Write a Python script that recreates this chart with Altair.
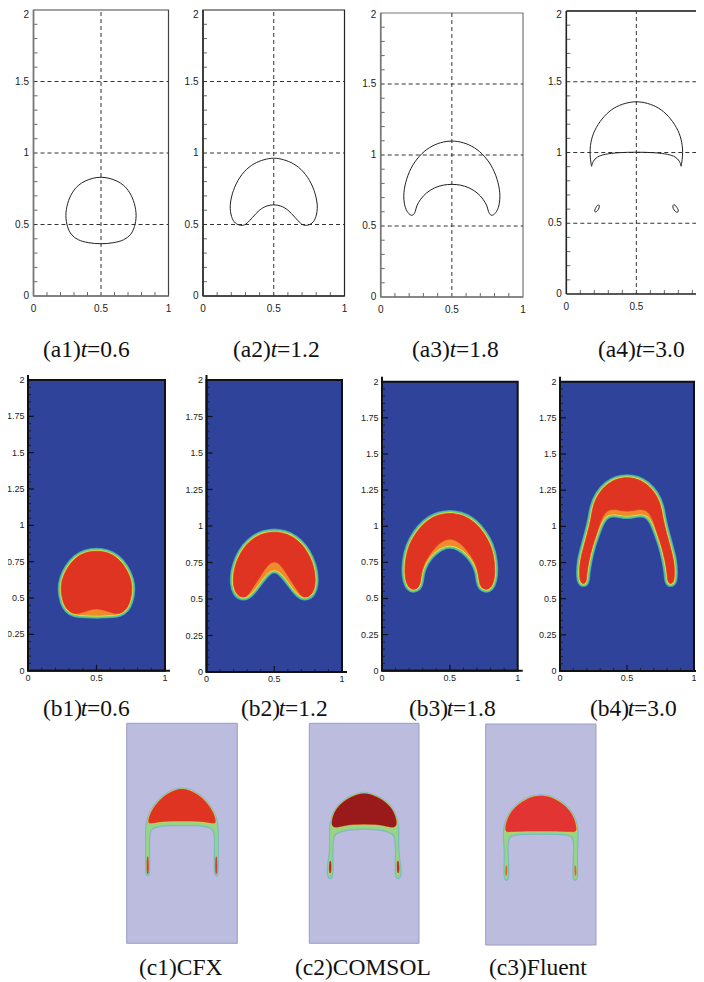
import altair as alt
import pandas as pd

# ---- contour half-profiles (x<=0.5) ----
A1 = [(.5,.833),(.44,.825),(.38,.805),(.33,.775),(.285,.725),(.25,.65),(.235,.56),(.25,.48),(.28,.425),(.33,.39),(.40,.372),(.5,.362)]
A2 = [(.5,.968),(.43,.955),(.36,.928),(.29,.875),(.23,.785),(.198,.69),(.188,.61),(.205,.535),(.235,.5),(.28,.49),(.31,.505),(.35,.55),(.40,.605),(.45,.632),(.5,.64)]
A3 = [(.5,1.102),(.42,1.09),(.34,1.055),(.27,.995),(.21,.91),(.172,.805),(.158,.71),(.17,.625),(.2,.58),(.225,.57),(.245,.6),(.25,.64),(.28,.69),(.32,.735),(.38,.772),(.44,.79),(.5,.795)]
A4 = [(.5,1.362),(.42,1.35),(.34,1.318),(.27,1.26),(.21,1.176),(.178,1.098),(.165,1.0),(.18,.9),(.18,.9),(.19,.94),(.22,.97),(.27,.988),(.37,1.0),(.5,1.003)]
A4_DROP_L = [(.2,.585),(.205,.6),(.225,.635),(.24,.625),(.23,.595),(.21,.575)]
A4_DROP_R = [(.76,.63),(.775,.635),(.805,.59),(.795,.575),(.78,.58),(.76,.605)]

B1_EDGE = [(.5,.825),(.42,.815),(.35,.78),(.29,.715),(.25,.635),(.238,.56),(.255,.47),(.285,.42),(.33,.39),(.40,.385),(.5,.38)]
B1_CORE = [(.5,.825),(.42,.815),(.35,.78),(.29,.715),(.25,.635),(.238,.56),(.255,.47),(.285,.42),(.33,.39),(.38,.395),(.44,.415),(.5,.43)]
B2_EDGE = [(.5,.962),(.42,.95),(.35,.92),(.28,.86),(.23,.78),(.2,.69),(.195,.60),(.218,.535),(.26,.51),(.30,.515),(.34,.55),(.38,.60),(.42,.65),(.46,.69),(.5,.705)]
B2_CORE = [(.5,.962),(.42,.95),(.35,.92),(.28,.86),(.23,.78),(.2,.69),(.195,.60),(.218,.535),(.26,.51),(.30,.515),(.34,.575),(.38,.63),(.42,.69),(.46,.74),(.5,.76)]
B3_EDGE = [(.5,1.092),(.42,1.08),(.35,1.05),(.28,.994),(.22,.91),(.182,.825),(.165,.70),(.175,.62),(.2,.57),(.235,.56),(.27,.575),(.285,.62),(.29,.68),(.32,.75),(.37,.81),(.43,.855),(.5,.875)]
B3_CORE = [(.5,1.092),(.42,1.08),(.35,1.05),(.28,.994),(.22,.91),(.182,.825),(.165,.70),(.175,.62),(.2,.57),(.235,.56),(.27,.575),(.285,.62),(.29,.68),(.32,.76),(.37,.83),(.43,.89),(.5,.92)]
B4_EDGE = [(.5,1.34),(.42,1.328),(.35,1.292),(.285,1.225),(.245,1.14),(.232,1.05),(.205,.95),(.175,.85),(.15,.76),(.145,.68),(.15,.615),(.175,.6),(.197,.615),(.2,.68),(.215,.76),(.24,.86),(.275,.95),(.31,1.04),(.36,1.09),(.43,1.085),(.5,1.07)]
B4_CORE = [(.5,1.34),(.42,1.328),(.35,1.292),(.285,1.225),(.245,1.14),(.232,1.05),(.205,.95),(.175,.85),(.15,.76),(.145,.68),(.15,.615),(.175,.6),(.197,.615),(.2,.68),(.215,.76),(.24,.86),(.275,.95),(.31,1.06),(.36,1.12),(.43,1.115),(.5,1.10)]

C1_EDGE = [(.5,1.405),(.44,1.395),(.38,1.365),(.32,1.325),(.26,1.26),(.21,1.18),(.183,1.09),(.18,1.0),(.182,.85),(.18,.70),(.185,.62),(.195,.62),(.2,.70),(.196,.85),(.196,1.0),(.22,1.055),(.3,1.075),(.4,1.08),(.5,1.08)]
C1_CORE = [(.5,1.405),(.44,1.395),(.38,1.365),(.32,1.325),(.26,1.26),(.21,1.18),(.188,1.09),(.22,1.09),(.3,1.105),(.4,1.11),(.5,1.11)]
C1_BLOB = [(.19,.82),(.183,.72),(.186,.63),(.194,.63),(.197,.72)]
C2_EDGE = [(.5,1.365),(.44,1.355),(.38,1.33),(.31,1.29),(.25,1.23),(.21,1.15),(.193,1.06),(.195,1.0),(.195,.87),(.19,.78),(.175,.72),(.17,.64),(.185,.59),(.2,.6),(.21,.66),(.205,.74),(.205,.87),(.21,.98),(.25,1.01),(.32,1.035),(.4,1.045),(.5,1.05)]
C2_CORE = [(.5,1.365),(.44,1.355),(.38,1.33),(.31,1.29),(.25,1.23),(.21,1.15),(.198,1.06),(.25,1.05),(.32,1.07),(.4,1.08),(.5,1.085)]
C2_BLOB = [(.188,.75),(.18,.68),(.19,.62),(.2,.68),(.195,.75)]
C3_EDGE = [(.5,1.352),(.44,1.345),(.377,1.325),(.287,1.27),(.208,1.18),(.172,1.07),(.17,1.0),(.175,.9),(.18,.8),(.175,.7),(.175,.62),(.185,.59),(.2,.6),(.2,.7),(.195,.8),(.19,.9),(.2,.97),(.23,1.0),(.3,1.01),(.5,1.015)]
C3_CORE = [(.5,1.352),(.44,1.345),(.377,1.325),(.287,1.27),(.208,1.18),(.176,1.07),(.178,1.02),(.23,1.025),(.3,1.028),(.5,1.03)]
C3_BLOB = [(.185,.72),(.18,.65),(.186,.62),(.193,.65),(.191,.72)]

# ---- ticks ----
A_Y_LABELS = [0, .5, 1, 1.5]
A_Y_TOP = [2]
A_X_LABELS = [0, .5, 1]
A_Y_MINOR = [.1,.2,.3,.4,.6,.7,.8,.9,1.1,1.2,1.3,1.4,1.6,1.7,1.8,1.9]
A_X_MINOR = [.1,.2,.3,.4,.6,.7,.8,.9]
GRID_Y = [.5, 1, 1.5]
GRID_X = [.5]
B_Y_LABELS = [0,.25,.5,.75,1,1.25,1.5,1.75,2]
B_Y_MAJOR = [.25,.5,.75,1,1.25,1.5,1.75]
B_Y_MINOR = [.05,.1,.15,.2,.3,.35,.4,.45,.55,.6,.65,.7,.8,.85,.9,.95,1.05,1.1,1.15,1.2,1.3,1.35,1.4,1.45,1.55,1.6,1.65,1.7,1.8,1.85,1.9,1.95]
B_X_MINOR = [.1,.2,.3,.4,.6,.7,.8,.9]
B_X_MAJOR = [.5]

SERIF = "Liberation Serif"
SANS = "Liberation Sans"
BLUE = "#2e4399"
LAV = "#bcbcde"
HALO, TEAL, GREEN, YELLOW, ORANGE, RED = "#3f8fb8", "#55bfa8", "#86cf5c", "#e8e040", "#f08a2c", "#e03423"
PAGE = 8  # body margin
layers = []


def closed(half, mirror=True):
    pts = list(half)
    if mirror:
        pts += [(round(1 - x, 3), y) for x, y in reversed(half) if x != .5]
    return pd.DataFrame({"x": [p[0] for p in pts], "y": [p[1] for p in pts], "i": range(len(pts))})


class Panel:
    def __init__(self, left, top, w, h, xmax=1):
        self.w, self.h, self.xmax, self.top = w, h, xmax, top
        self.sx = alt.Scale(domain=[0, xmax], range=[left - PAGE, left + w - PAGE], nice=False, zero=False)
        self.sy = alt.Scale(domain=[0, 2], range=[top + h - PAGE, top - PAGE], nice=False, zero=False)

    def X(self, f="x"):
        return alt.X(f"{f}:Q", scale=self.sx, axis=None)

    def Y(self, f="y"):
        return alt.Y(f"{f}:Q", scale=self.sy, axis=None)

    def rect(self, **kw):
        df = pd.DataFrame({"x": [0], "x2": [self.xmax], "y": [0], "y2": [2]})
        layers.append(alt.Chart(df).mark_rect(**kw).encode(
            x=self.X(), x2=alt.X2("x2"), y=self.Y(), y2=alt.Y2("y2")))

    def shape(self, df, stroke, w, fill="transparent"):
        layers.append(alt.Chart(df).mark_line(stroke=stroke, strokeWidth=w, strokeJoin="round",
                                              interpolate="basis-closed", fill=fill)
                      .encode(x=self.X(), y=self.Y(), order=alt.Order("i:Q")))

    def hrules(self, ys, x0, x1, **kw):
        df = pd.DataFrame({"y": ys, "x": [x0] * len(ys), "x2": [x1] * len(ys)})
        layers.append(alt.Chart(df).mark_rule(**kw).encode(x=self.X(), x2=alt.X2("x2"), y=self.Y()))

    def vrules(self, xs, y0, y1, **kw):
        df = pd.DataFrame({"x": xs, "y": [y0] * len(xs), "y2": [y1] * len(xs)})
        layers.append(alt.Chart(df).mark_rule(**kw).encode(x=self.X(), y=self.Y(), y2=alt.Y2("y2")))

    def xlen(self, px):
        return px / self.w * self.xmax

    def ylen(self, px):
        return px / self.h * 2

    def ylabels(self, vals, size, pad, dy=0):
        df = pd.DataFrame({"y": vals, "x": [0] * len(vals), "s": [f"{v:g}" for v in vals]})
        layers.append(alt.Chart(df).mark_text(align="right", baseline="middle", font=SANS, fontSize=size,
                                              color="#222", dx=-pad, dy=dy)
                      .encode(x=self.X(), y=self.Y(), text="s:N"))

    def xlabels(self, vals, size, pad):
        df = pd.DataFrame({"x": vals, "y": [0] * len(vals), "s": [f"{v:g}" for v in vals]})
        layers.append(alt.Chart(df).mark_text(align="center", baseline="middle", font=SANS, fontSize=size,
                                              color="#222", dy=pad)
                      .encode(x=self.X(), y=self.Y(), text="s:N"))


def caption(parts, base):
    for txt, px, style in parts:
        layers.append(alt.Chart(pd.DataFrame({"s": [txt]})).mark_text(
            align="left", baseline="alphabetic", font=SERIF, fontSize=23.5, fontStyle=style, color="#111"
        ).encode(x=alt.value(px - PAGE), y=alt.value(base - PAGE), text="s:N"))


def caption_t(name, tval, px, base):
    caption([(name, px, "normal"), ("t", px + 37.8, "italic"), ("=" + tval, px + 44, "normal")], base)


def panel_a(left, top, w, h, xmax, shapes, name, t, lx, border, axis, xlabs):
    p = Panel(left, top, w, h, xmax)
    if border:
        p.rect(fill="white", stroke=border, strokeWidth=1.2)
    else:
        p.hrules([2], 0, xmax, color="#111", strokeWidth=1.3)
    p.hrules(GRID_Y, 0, xmax, color="#333", strokeDash=[4, 3], strokeWidth=1)
    p.vrules(GRID_X, 0, 2, color="#333", strokeDash=[4, 3], strokeWidth=1)
    p.hrules(A_Y_MINOR, 0, p.xlen(4), color="#444", strokeWidth=0.8)
    p.vrules(A_X_MINOR, 0, p.ylen(4), color="#444", strokeWidth=0.8)
    p.hrules([0], 0, xmax, color=axis, strokeWidth=1.6)
    p.vrules([0], 0, 2, color=axis, strokeWidth=1.6)
    for s in shapes:
        p.shape(s, "#222", 1)
    p.ylabels(A_Y_LABELS, 10, 4.5)
    # the page margin starts at 8px, so the top label sits just inside it
    p.ylabels(A_Y_TOP, 10, 4.5, dy=max(0, 15 - top))
    p.xlabels(xlabs, 10, 12.5)
    caption_t(name, t, lx, 357)


def panel_b(left, top, w, h, edge, core, name, t, lx):
    p = Panel(left, top, w, h)
    p.rect(fill=BLUE, stroke="#111", strokeWidth=2)
    e = closed(edge)
    p.shape(e, HALO, 7.2, ORANGE)
    p.shape(e, TEAL, 6, ORANGE)
    p.shape(e, GREEN, 4, ORANGE)
    p.shape(e, YELLOW, 2.4, ORANGE)
    p.shape(e, ORANGE, 1, ORANGE)
    p.shape(closed(core), RED, 0.5, RED)
    p.hrules(B_Y_MINOR, 0, p.xlen(3), color="#111", strokeWidth=0.7)
    p.hrules(B_Y_MAJOR, 0, p.xlen(6), color="#111", strokeWidth=1.2)
    p.vrules(B_X_MINOR, 0, p.ylen(3), color="#111", strokeWidth=0.7)
    p.vrules(B_X_MAJOR, 0, p.ylen(6), color="#111", strokeWidth=1.2)
    p.vrules([0], 0, 2 + p.ylen(5), color="#111", strokeWidth=2)
    p.hrules([0], 0, 1 + p.xlen(5), color="#111", strokeWidth=2)
    p.ylabels(B_Y_LABELS, 9, 3.5)
    p.xlabels(A_X_LABELS, 9, 7)
    caption_t(name, t, lx, 716)


def panel_c(left, top, w, h, edge, core, blob, core_col, blob_col, name, lx):
    p = Panel(left, top, w, h)
    p.rect(fill=LAV, stroke="#9c9cc6", strokeWidth=1)
    e = closed(edge)
    p.shape(e, "#8ab4d4", 3.4, "#8ab4d4")
    p.shape(e, "#6cc4b4", 2.2, "#6cc4b4")
    p.shape(e, "#9ad482", 1, "#9ad482")
    p.shape(closed(core), YELLOW, 1.4, core_col)
    p.shape(closed(core), core_col, 0.4, core_col)
    p.shape(closed(blob, False), blob_col, 0.8, blob_col)
    p.shape(closed([(round(1 - x, 3), y) for x, y in blob], False), blob_col, 0.8, blob_col)
    caption([(name, lx, "normal")], 975)


panel_a(33.5, 10, 135, 286, 1, [closed(A1)], "(a1)", "0.6", 43, "#444", "#777", A_X_LABELS)
panel_a(203, 10, 141.5, 286, 1, [closed(A2)], "(a2)", "1.2", 233, "#222", "#333", A_X_LABELS)
panel_a(380.7, 13, 142.3, 284, 1, [closed(A3)], "(a3)", "1.8", 412, "#777", "#777", A_X_LABELS)
panel_a(566.3, 11, 129.7, 283, 0.926, [closed(A4), closed(A4_DROP_L, False), closed(A4_DROP_R, False)],
        "(a4)", "3.0", 598, None, "#222", [0, .5])

panel_b(28, 380, 137, 290.7, B1_EDGE, B1_CORE, "(b1)", "0.6", 43)
panel_b(206.5, 380, 135.5, 292, B2_EDGE, B2_CORE, "(b2)", "1.2", 241)
panel_b(382, 381.7, 135.7, 289, B3_EDGE, B3_CORE, "(b3)", "1.8", 409)
panel_b(560, 381.7, 134, 289.3, B4_EDGE, B4_CORE, "(b4)", "3.0", 590)

panel_c(126.7, 723.3, 110.6, 220, C1_EDGE, C1_CORE, C1_BLOB, RED, RED, "(c1)CFX", 139)
panel_c(309.3, 723.3, 109.7, 220, C2_EDGE, C2_CORE, C2_BLOB, "#9a1a1c", "#c8201c", "(c2)COMSOL", 295)
panel_c(485.7, 724, 110.3, 221, C3_EDGE, C3_CORE, C3_BLOB, "#e23432", "#e8601c", "(c3)Fluent", 489)

chart = alt.layer(*layers).resolve_scale(x="independent", y="independent").properties(
    width=688, height=972, padding=0,
    autosize=alt.AutoSizeParams(type="none"),
    view=alt.ViewConfig(stroke="transparent"),
)
chart.save("out.html", embed_options={"renderer": "svg", "actions": False})
